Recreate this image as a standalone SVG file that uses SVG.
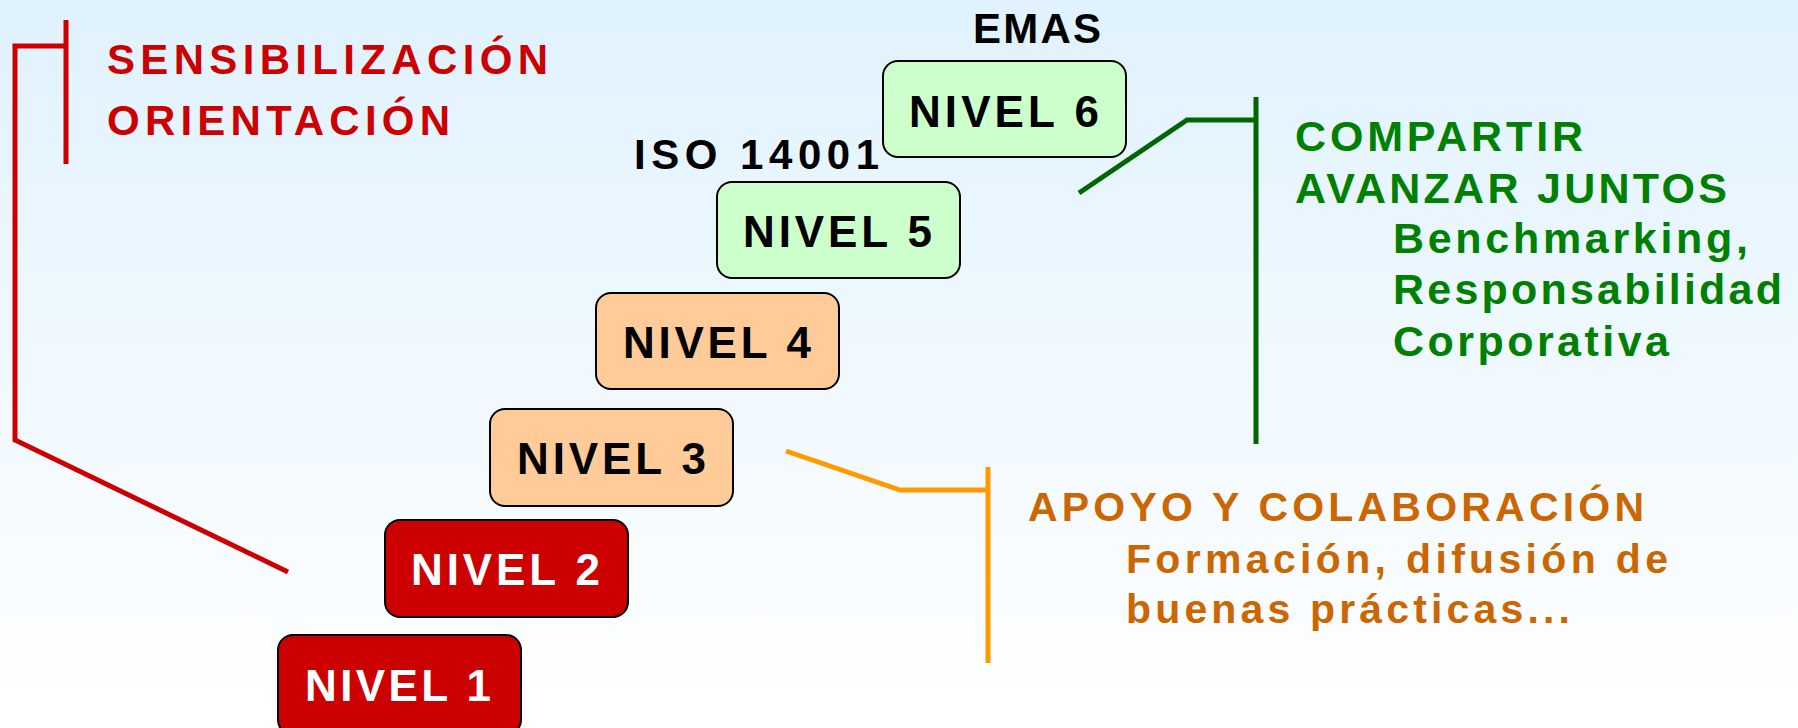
<svg xmlns="http://www.w3.org/2000/svg" width="1798" height="728" viewBox="0 0 1798 728">
<defs>
<linearGradient id="bg" x1="0" y1="0" x2="0" y2="1">
<stop offset="0" stop-color="#E0F2FE"/>
<stop offset="1" stop-color="#FFFFFF"/>
</linearGradient>
<style>
text{font-family:"Liberation Sans",Arial,sans-serif;font-weight:bold;}
.box{stroke:#000;stroke-width:2;}
.red{fill:#CC0000;}
.orange{fill:#FFCC99;}
.green{fill:#CCFFCC;}
.lvl{font-size:44px;}
.wt{fill:#FFFFFF;}
.bk{fill:#000000;}
.cr{fill:none;stroke:#CC0000;stroke-width:5;}
.co{fill:none;stroke:#FF9900;stroke-width:5;}
.cg{fill:none;stroke:#006600;stroke-width:5;}
.tr{fill:#CC0000;font-size:42px;}
.to{fill:#CC6600;font-size:41px;}
.tg{fill:#008000;font-size:43px;}
.lab{fill:#000;font-size:42px;}
</style>
</defs>
<rect x="0" y="0" width="1798" height="728" fill="url(#bg)"/>
<g id="connectors">
<polyline class="cr" points="66,20 66,164"/>
<polyline class="cr" points="66,46 15,46 15,440 288,572"/>
<polyline class="co" points="786,451 900,490 988,490"/>
<polyline class="co" points="988,467 988,663"/>
<polyline class="cg" points="1079,193 1187,120 1256,120"/>
<polyline class="cg" points="1256,97 1256,444"/>
</g>
<g id="nivel1">
<rect class="box red" x="278" y="635" width="243" height="100" rx="15"/>
<text class="lvl wt" x="305" y="701" textLength="186" lengthAdjust="spacing">NIVEL 1</text>
</g>
<g id="nivel2">
<rect class="box red" x="385" y="520" width="243" height="97" rx="15"/>
<text class="lvl wt" x="411" y="585" textLength="189" lengthAdjust="spacing">NIVEL 2</text>
</g>
<g id="nivel3">
<rect class="box orange" x="490" y="409" width="243" height="97" rx="15"/>
<text class="lvl bk" x="517" y="474" textLength="189" lengthAdjust="spacing">NIVEL 3</text>
</g>
<g id="nivel4">
<rect class="box orange" x="596" y="293" width="243" height="96" rx="15"/>
<text class="lvl bk" x="623" y="358" textLength="188" lengthAdjust="spacing">NIVEL 4</text>
</g>
<g id="nivel5">
<rect class="box green" x="717" y="182" width="243" height="96" rx="15"/>
<text class="lvl bk" x="743" y="247" textLength="189" lengthAdjust="spacing">NIVEL 5</text>
</g>
<g id="nivel6">
<rect class="box green" x="883" y="61" width="243" height="96" rx="15"/>
<text class="lvl bk" x="909" y="127" textLength="190" lengthAdjust="spacing">NIVEL 6</text>
</g>
<g id="label-emas">
<text class="lab" x="973" y="43" textLength="128" lengthAdjust="spacing">EMAS</text>
</g>
<g id="label-iso">
<text class="lab" x="634" y="169" textLength="245" lengthAdjust="spacing">ISO 14001</text>
</g>
<g id="sensibilizacion">
<text class="tr" x="107" y="74" textLength="441" lengthAdjust="spacing">SENSIBILIZACIÓN</text>
<text class="tr" x="107" y="135" textLength="343" lengthAdjust="spacing">ORIENTACIÓN</text>
</g>
<g id="apoyo">
<text class="to" x="1028" y="521" textLength="616" lengthAdjust="spacing">APOYO Y COLABORACIÓN</text>
<text class="to" x="1126" y="573" textLength="542" lengthAdjust="spacing">Formación, difusión de</text>
<text class="to" x="1126" y="623" textLength="444" lengthAdjust="spacing">buenas prácticas...</text>
</g>
<g id="compartir">
<text class="tg" x="1295" y="151" textLength="288" lengthAdjust="spacing">COMPARTIR</text>
<text class="tg" x="1295" y="203" textLength="432" lengthAdjust="spacing">AVANZAR JUNTOS</text>
<text class="tg" x="1393" y="253" textLength="355" lengthAdjust="spacing">Benchmarking,</text>
<text class="tg" x="1393" y="304" textLength="389" lengthAdjust="spacing">Responsabilidad</text>
<text class="tg" x="1393" y="356" textLength="276" lengthAdjust="spacing">Corporativa</text>
</g>
</svg>
